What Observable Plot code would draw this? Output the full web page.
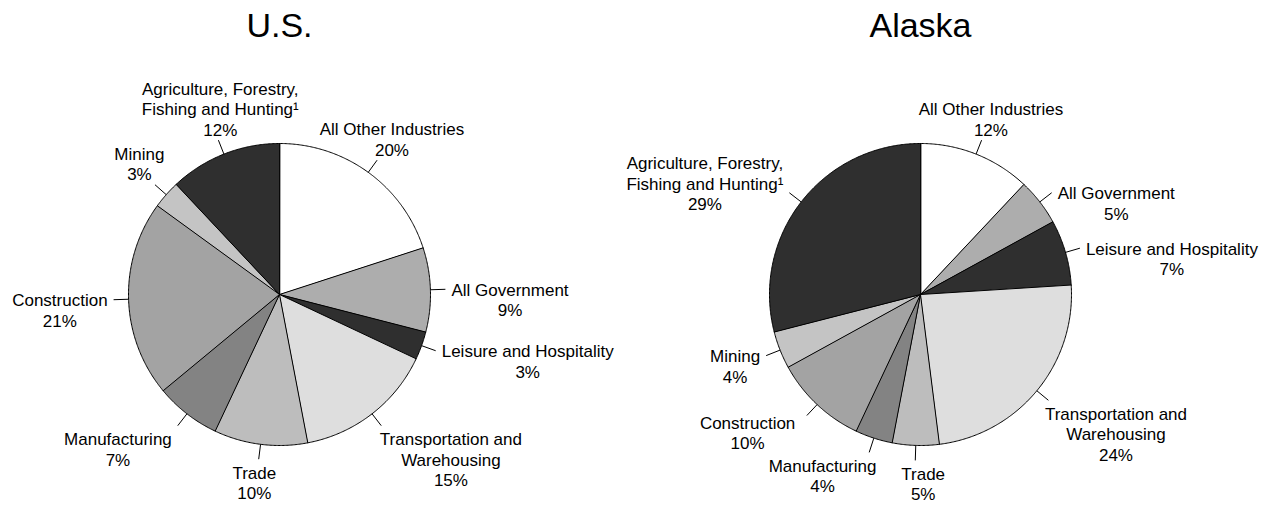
<!DOCTYPE html>
<html>
<head>
<meta charset="utf-8">
<script src="https://cdn.jsdelivr.net/npm/d3@7"></script>
<script src="https://cdn.jsdelivr.net/npm/@observablehq/plot@0.6"></script>
<style>
  html, body { margin: 0; padding: 0; background: #fff; }
</style>
</head>
<body>
<div id="chart"></div>
<script>
// ---- data ----
const countries = ["U.S.", "Alaska"];
const industries = [
  "All Other Industries",
  "All Government",
  "Leisure and Hospitality",
  "Transportation and\nWarehousing",
  "Trade",
  "Manufacturing",
  "Construction",
  "Mining",
  "Agriculture, Forestry,\nFishing and Hunting\u00b9"
];
const usShares = [20, 9, 3, 15, 10, 7, 21, 3, 12];
const alaskaShares = [12, 5, 7, 24, 5, 4, 10, 4, 29];
const sliceFills = ["#ffffff", "#adadad", "#2f2f2f", "#dedede", "#bdbdbd", "#838383", "#a3a3a3", "#c4c4c4", "#2f2f2f"];

// ---- layout ----
const W = 1267, H = 506;
const centersX = [279, 920];
const centerY = 294;
const R = 151;
const leaderLen = 15;
const fontSize = 17, lineH = fontSize * 1.2;
const font = "'Liberation Sans', Arial, Helvetica, sans-serif";
// small hand-placement tweaks of label boxes (pixels), keyed by country|slice index
const labelNudges = {
  "U.S.|5": [-7, 0], "U.S.|7": [-9, 0], "U.S.|8": [12, 0],
  "Alaska|3": [-20, 0], "Alaska|4": [9, 0], "Alaska|5": [-20, 0],
  "Alaska|6": [-7, -6], "Alaska|8": [0, -30]
};

const canvas = document.createElement("canvas");
const ctx = canvas.getContext("2d");
ctx.font = `${fontSize}px ${font}`;
const textWidth = (s) => d3.max(s.split("\n"), (l) => ctx.measureText(l).width);

const sharesByCountry = [usShares, alaskaShares];
const sliceMarks = [];
const leaders = [];
const labels = [];

countries.forEach((country, ci) => {
  const shares = sharesByCountry[ci];
  const total = d3.sum(shares);
  const cx = centersX[ci];
  let cum = 0;
  shares.forEach((v, i) => {
    const a0 = (cum / total) * 2 * Math.PI;
    cum += v;
    const a1 = (cum / total) * 2 * Math.PI;
    const pts = [{x: cx, y: centerY}];
    const steps = Math.max(2, Math.ceil((a1 - a0) / (Math.PI / 360)));
    for (let k = 0; k <= steps; k++) {
      const a = a0 + (a1 - a0) * k / steps;
      pts.push({x: cx + R * Math.sin(a), y: centerY - R * Math.cos(a)});
    }
    sliceMarks.push(Plot.line(pts, {x: "x", y: "y", curve: "linear-closed", fill: sliceFills[i], stroke: "black", strokeWidth: 1}));

    const am = (a0 + a1) / 2;
    const s = Math.sin(am), c = Math.cos(am);
    const sx = cx + R * s, sy = centerY - R * c;
    const ex = cx + (R + leaderLen) * s, ey = centerY - (R + leaderLen) * c;
    leaders.push({x1: sx, y1: sy, x2: ex, y2: ey});

    const text = industries[i] + "\n" + v + "%";
    const n = text.split("\n").length;
    const w = textWidth(text);
    let lx, ly;
    if (Math.abs(s) >= 0.78) {
      lx = s > 0 ? ex + 6 + w / 2 : ex - 6 - w / 2;
      ly = ey + (n - 1) * lineH / 2;
    } else if (c > 0) {
      lx = ex + 0.35 * s * w / 2;
      ly = ey - 11 - (n - 1) * lineH / 2;
    } else {
      lx = ex + 1.6 * s * w / 2;
      ly = ey + 13 + (n - 1) * lineH / 2;
    }
    const nudge = labelNudges[country + "|" + i];
    if (nudge) { lx += nudge[0]; ly += nudge[1]; }
    labels.push({x: lx, y: ly, text});
  });
});

const titles = countries.map((c, i) => ({x: centersX[i], y: 26, text: c}));

const chart = Plot.plot({
  width: W,
  height: H,
  margin: 0,
  x: {domain: [0, W], range: [0, W], axis: null},
  y: {domain: [0, H], range: [0, H], axis: null},
  style: {fontFamily: font, background: "#fff", color: "#000"},
  marks: [
    ...sliceMarks,
    Plot.link(leaders, {x1: "x1", y1: "y1", x2: "x2", y2: "y2", stroke: "black", strokeWidth: 1}),
    Plot.text(labels, {x: "x", y: "y", text: "text", fontSize, lineHeight: 1.2, textAnchor: "middle", lineAnchor: "middle", fill: "black"}),
    Plot.text(titles, {x: "x", y: "y", text: "text", fontSize: 34, textAnchor: "middle", lineAnchor: "middle", fill: "black"})
  ]
});
document.getElementById("chart").appendChild(chart);
</script>
</body>
</html>
